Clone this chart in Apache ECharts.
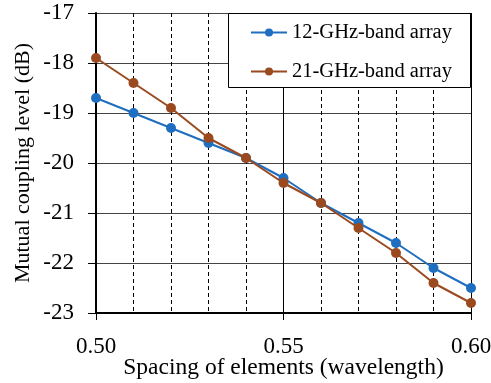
<!DOCTYPE html>
<html>
<head>
<meta charset="utf-8">
<script src="https://cdn.jsdelivr.net/npm/echarts@6/dist/echarts.min.js"></script>
<style>html,body{margin:0;padding:0;background:#fff}#c{width:491px;height:383px}</style>
</head>
<body>
<div id="c"></div>
<script>
var spacing = [0.50, 0.51, 0.52, 0.53, 0.54, 0.55, 0.56, 0.57, 0.58, 0.59, 0.60];
var band12 = [-18.7, -19.0, -19.3, -19.6, -19.9, -20.3, -20.8, -21.2, -21.6, -22.1, -22.5];
var band21 = [-17.9, -18.4, -18.9, -19.5, -19.9, -20.4, -20.8, -21.3, -21.8, -22.4, -22.8];
var seriesNames = ['12-GHz-band array', '21-GHz-band array'];
var FONT = "Liberation Serif";

function pairs(ys) { return spacing.map(function (x, i) { return [x, ys[i]]; }); }

var chart = echarts.init(document.getElementById('c'), null, {renderer: 'canvas'});
chart.setOption({
  animation: false,
  backgroundColor: '#fff',
  grid: {left: 96, right: 20, top: 13, bottom: 70, containLabel: false, outerBoundsMode: 'none'},
  xAxis: {
    type: 'value', min: 0.5, max: 0.6, interval: 0.05,
    name: 'Spacing of elements (wavelength)', nameLocation: 'middle', nameGap: 43,
    nameMoveOverlap: false,
    nameTextStyle: {fontFamily: FONT, fontSize: 23.5, color: '#000'},
    axisLine: {show: true, onZero: false, lineStyle: {color: '#000', width: 2}},
    axisTick: {show: true, inside: false, length: 7, lineStyle: {color: '#000', width: 1}},
    axisLabel: {fontFamily: FONT, fontSize: 23, color: '#000', margin: 22,
      formatter: function (v) { return v.toFixed(2); }},
    splitLine: {show: true, lineStyle: {color: '#000', width: 1, type: 'solid'}},
    minorTick: {show: false, splitNumber: 5},
    minorSplitLine: {show: true, lineStyle: {color: '#000', width: 1, type: [4, 3]}}
  },
  yAxis: {
    type: 'value', min: -23, max: -17, interval: 1,
    name: 'Mutual coupling level (dB)', nameLocation: 'middle', nameGap: 62,
    nameMoveOverlap: false,
    nameTextStyle: {fontFamily: FONT, fontSize: 22, color: '#000'},
    axisLine: {show: true, onZero: false, lineStyle: {color: '#000', width: 2}},
    axisTick: {show: true, inside: false, length: 8, lineStyle: {color: '#000', width: 1}},
    axisLabel: {fontFamily: FONT, fontSize: 23, color: '#000', margin: 22},
    splitLine: {show: true, lineStyle: {color: '#444', width: 1}}
  },
  legend: {
    show: true, orient: 'vertical', left: 250, top: 22, z: 6,
    itemWidth: 36, itemHeight: 10, itemGap: 18, padding: 0,
    textStyle: {fontFamily: FONT, fontSize: 20.5, color: '#000', lineHeight: 20},
    data: seriesNames
  },
  graphic: [{
    type: 'rect', z: 5, silent: true,
    shape: {x: 228.5, y: 13.5, width: 242, height: 74},
    style: {fill: '#fff', stroke: '#000', lineWidth: 1}
  }],
  series: [{
    name: seriesNames[0], type: 'line', data: pairs(band12),
    symbol: 'circle', symbolSize: 10, showSymbol: true,
    itemStyle: {color: '#1f6ebf'}, lineStyle: {color: '#1f6ebf', width: 2}, z: 3
  }, {
    name: seriesNames[1], type: 'line', data: pairs(band21),
    symbol: 'circle', symbolSize: 10, showSymbol: true,
    itemStyle: {color: '#9a4a1e'}, lineStyle: {color: '#9a4a1e', width: 2}, z: 4
  }]
});
</script>
</body>
</html>
